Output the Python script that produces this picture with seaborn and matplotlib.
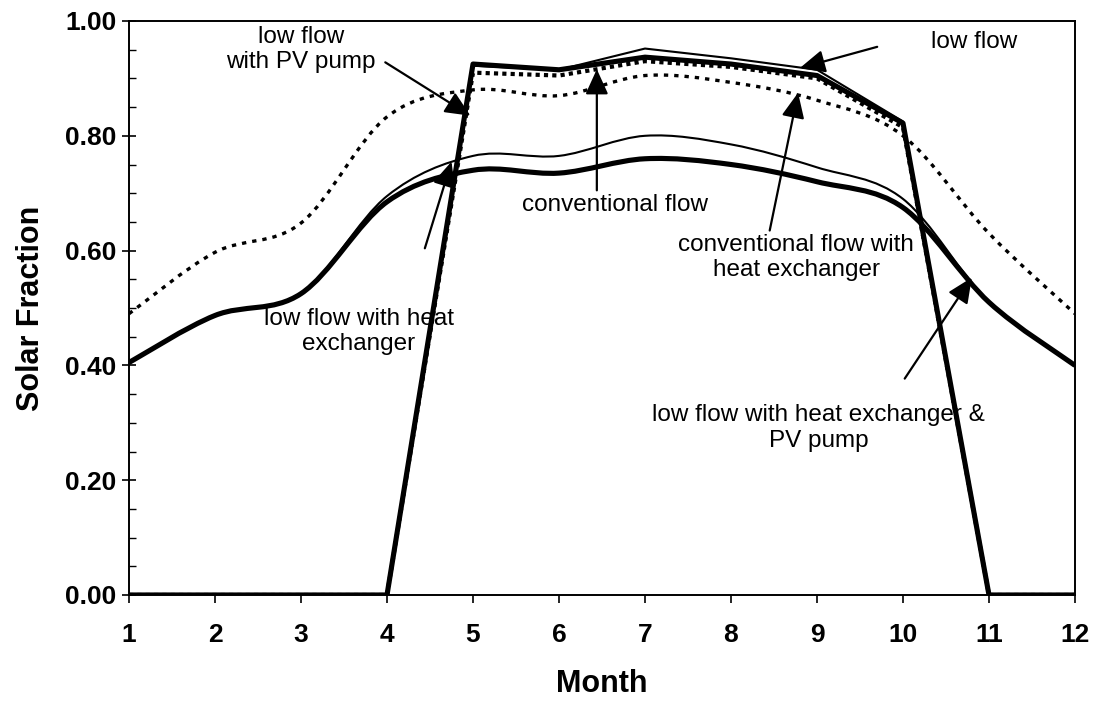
import numpy as np
import matplotlib
matplotlib.use("Agg")
import matplotlib.pyplot as plt
from matplotlib.path import Path
from matplotlib.patches import PathPatch
from matplotlib.ticker import MultipleLocator, FormatStrFormatter
import seaborn as sns

# Monthly solar fraction for each collector configuration
months = [1, 2, 3, 4, 5, 6, 7, 8, 9, 10, 11, 12]
low_flow = [0, 0, 0, 0, 0.922, 0.915, 0.952, 0.935, 0.915, 0.825, 0, 0]
low_flow_pv = [0, 0, 0, 0, 0.925, 0.915, 0.937, 0.925, 0.905, 0.822, 0, 0]
conventional = [0, 0, 0, 0, 0.910, 0.905, 0.930, 0.920, 0.900, 0.815, 0, 0]
conventional_hx = [0.490, 0.597, 0.648, 0.833, 0.880, 0.870, 0.905, 0.893, 0.862, 0.800, 0.630, 0.490]
low_flow_hx = [0.405, 0.487, 0.525, 0.695, 0.765, 0.765, 0.800, 0.785, 0.745, 0.690, 0.510, 0.400]
low_flow_hx_pv = [0.405, 0.487, 0.525, 0.685, 0.740, 0.735, 0.760, 0.750, 0.720, 0.675, 0.510, 0.400]

x_ticks = months
y_ticks = [0.0, 0.2, 0.4, 0.6, 0.8, 1.0]

sns.set_style("ticks")
plt.rcParams["font.family"] = ["Liberation Sans", "DejaVu Sans"]
plt.rcParams.update({
    "text.color": "black",
    "axes.labelcolor": "black",
    "xtick.color": "black",
    "ytick.color": "black",
})

fig = plt.figure(figsize=(10.98, 7.02), dpi=100)
ax = fig.add_axes([129 / 1098, 1 - 595 / 702, (1075 - 129) / 1098, (595 - 21) / 702])


def smooth_path(xs, ys):
    """Bezier path through the points with Catmull-Rom style tangents."""
    pts = np.column_stack([xs, ys]).astype(float)
    ext = np.vstack([pts[0], pts, pts[-1]])
    verts = [tuple(pts[0])]
    codes = [Path.MOVETO]
    for i in range(len(pts) - 1):
        p0, p1, p2, p3 = ext[i], ext[i + 1], ext[i + 2], ext[i + 3]
        c1 = p1 + (p2 - p0) / 6.0
        c2 = p2 - (p3 - p1) / 6.0
        verts += [tuple(c1), tuple(c2), tuple(p2)]
        codes += [Path.CURVE4] * 3
    return Path(verts, codes)


def smooth_line(xs, ys, **kw):
    patch = PathPatch(smooth_path(xs, ys), fill=False, transform=ax.transData, **kw)
    patch.set_capstyle("butt")
    ax.add_patch(patch)


# Smoothed curves (all-year systems)
smooth_line(months, conventional_hx, edgecolor="black", linewidth=2.4,
            linestyle=(0, (1.3, 1.8)), zorder=2)
smooth_line(months, low_flow_hx, edgecolor="black", linewidth=1.5, zorder=3)
smooth_line(months, low_flow_hx_pv, edgecolor="black", linewidth=3.7, zorder=3)

# Straight-segment series (systems with zero output outside the season)
sns.lineplot(x=months, y=conventional, ax=ax, color="black", linewidth=3.0,
             linestyle=(0, (1, 1)), estimator=None, legend=False, zorder=4)
sns.lineplot(x=months, y=low_flow_pv, ax=ax, color="black", linewidth=3.7,
             estimator=None, legend=False, zorder=5)
sns.lineplot(x=months, y=low_flow, ax=ax, color="black", linewidth=1.5,
             estimator=None, legend=False, zorder=6)

ax.set_xlim(1, 12)
ax.set_ylim(0, 1.0)
ax.set_xticks(x_ticks)
ax.set_yticks(y_ticks)
ax.yaxis.set_major_formatter(FormatStrFormatter("%.2f"))
ax.yaxis.set_minor_locator(MultipleLocator(0.05))

ax.tick_params(axis="y", which="major", direction="inout", length=10, width=1.2,
               labelsize=19, pad=4)
ax.tick_params(axis="y", which="minor", direction="in", length=5, width=1.0)
ax.tick_params(axis="x", which="major", direction="out", length=6, width=1.2,
               labelsize=19, pad=14)
for lab in ax.get_xticklabels() + ax.get_yticklabels():
    lab.set_fontweight("bold")

for side in ["left", "right", "top", "bottom"]:
    ax.spines[side].set_visible(True)
    ax.spines[side].set_linewidth(1.4)
    ax.spines[side].set_color("black")

ax.set_xlabel("Month", fontsize=22, fontweight="bold", labelpad=16)
ax.set_ylabel("Solar Fraction", fontsize=22, fontweight="bold", labelpad=14)

arrow_kw = dict(arrowstyle="-|>,head_length=0.55,head_width=0.25", color="black",
                lw=1.6, mutation_scale=28, shrinkA=0, shrinkB=0)
txt_kw = dict(fontsize=17.5, color="black", zorder=8)

annotations = [
    ("low flow\nwith PV pump", (3.0, 0.950), "center", (3.98, 0.928), (4.97, 0.835)),
    ("conventional flow", (6.65, 0.680), "center", (6.44, 0.705), (6.44, 0.916)),
    ("low flow", (10.33, 0.963), "left", (9.70, 0.955), (8.80, 0.918)),
    ("conventional flow with\nheat exchanger", (8.76, 0.588), "center", (8.45, 0.635), (8.78, 0.875)),
    ("low flow with heat\nexchanger", (3.67, 0.459), "center", (4.44, 0.604), (4.75, 0.755)),
    ("low flow with heat exchanger &\nPV pump", (9.02, 0.291), "center", (10.02, 0.377), (10.80, 0.553)),
]
for text, pos, ha, tail, tip in annotations:
    ax.text(pos[0], pos[1], text, ha=ha, va="center", multialignment="center", **txt_kw)
    ax.annotate("", xy=tip, xytext=tail, arrowprops=arrow_kw, zorder=9)

fig.savefig("out.png", dpi=100, facecolor="white")
